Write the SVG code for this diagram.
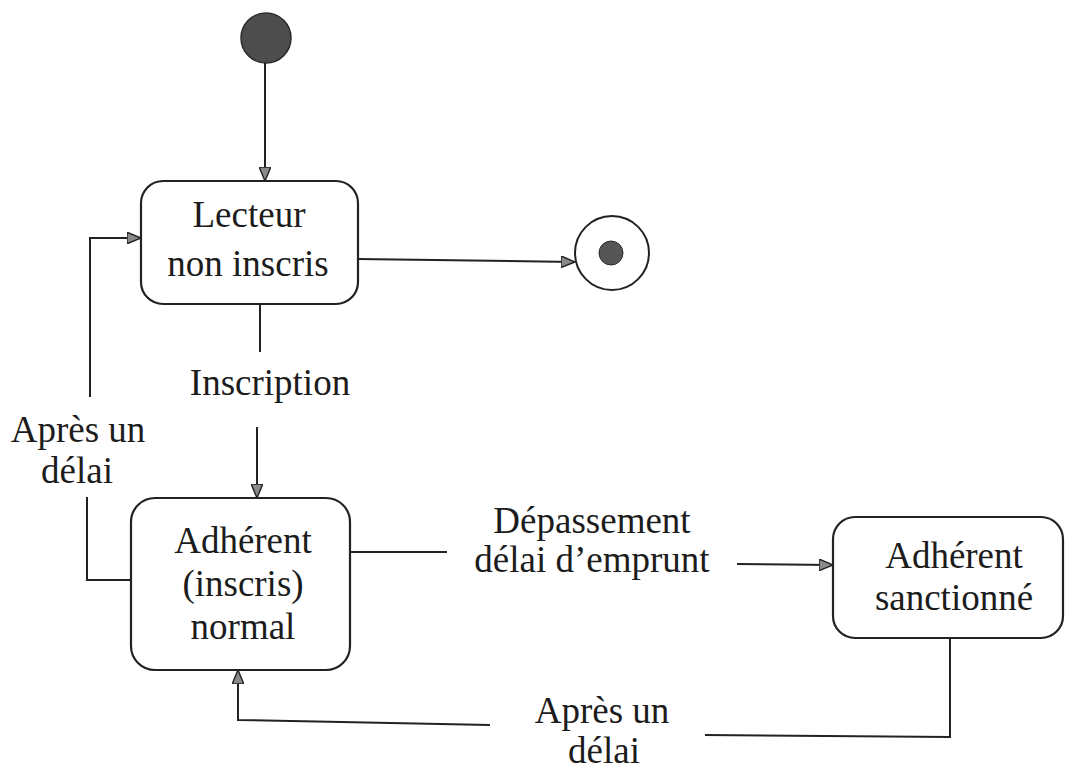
<svg xmlns="http://www.w3.org/2000/svg" width="1066" height="770" viewBox="0 0 1066 770">
<defs>
<marker id="arr" viewBox="0 0 12 10" refX="12" refY="5" markerWidth="14" markerHeight="12" markerUnits="userSpaceOnUse" orient="auto">
<path d="M0,0 L12,5 L0,10 z" fill="#8a8a8a" stroke="#222" stroke-width="1.2"/>
</marker>
</defs>
<style>
.box{fill:#fff;stroke:#222;stroke-width:2.2}
.ln{fill:none;stroke:#222;stroke-width:2}
.t{font-family:'Liberation Serif','DejaVu Serif',serif;font-size:37px;fill:#1c1c1c;text-anchor:middle}
</style>
<rect width="1066" height="770" fill="#fff"/>
<g id="initial">
<circle cx="266" cy="38" r="25" fill="#4d4d4d" stroke="#2a2a2a" stroke-width="1.5"/>
</g>
<g id="final">
<circle cx="612" cy="253" r="37" fill="#fff" stroke="#222" stroke-width="2"/>
<circle cx="611" cy="253" r="12" fill="#555" stroke="#2a2a2a" stroke-width="1"/>
</g>
<g id="lecteur">
<rect class="box" x="141" y="181" width="217" height="123" rx="22"/>
<text class="t" x="249" y="227">Lecteur</text>
<text class="t" x="248" y="276">non inscris</text>
</g>
<g id="adherent">
<rect class="box" x="131" y="498" width="219" height="172" rx="24"/>
<text class="t" x="243" y="553">Adhérent</text>
<text class="t" x="243" y="596">(inscris)</text>
<text class="t" x="243" y="639">normal</text>
</g>
<g id="sanctionne">
<rect class="box" x="833" y="517" width="230" height="121" rx="22"/>
<text class="t" x="954" y="568">Adhérent</text>
<text class="t" x="954" y="610">sanctionné</text>
</g>
<g id="connectors">
<line class="ln" x1="265" y1="63" x2="265" y2="181" marker-end="url(#arr)"/>
<line class="ln" x1="358" y1="259" x2="575" y2="262" marker-end="url(#arr)"/>
<line class="ln" x1="260" y1="304" x2="260" y2="352"/>
<line class="ln" x1="257" y1="427" x2="257" y2="498" marker-end="url(#arr)"/>
<polyline class="ln" points="131,580 87,580 87,497"/>
<polyline class="ln" points="90,397 90,238 141,238" marker-end="url(#arr)"/>
<line class="ln" x1="350" y1="552" x2="447" y2="552"/>
<line class="ln" x1="737" y1="564" x2="833" y2="565" marker-end="url(#arr)"/>
<polyline class="ln" points="950,638 950,737 705,735"/>
<polyline class="ln" points="490,725 238,720 238,670" marker-end="url(#arr)"/>
</g>
<g id="labels">
<text class="t" x="270" y="395">Inscription</text>
<text class="t" x="78" y="442">Après un</text>
<text class="t" x="77" y="483">délai</text>
<text class="t" x="592" y="533">Dépassement</text>
<text class="t" x="592" y="572">délai d’emprunt</text>
<text class="t" x="602" y="723">Après un</text>
<text class="t" x="604" y="763">délai</text>
</g>
</svg>
